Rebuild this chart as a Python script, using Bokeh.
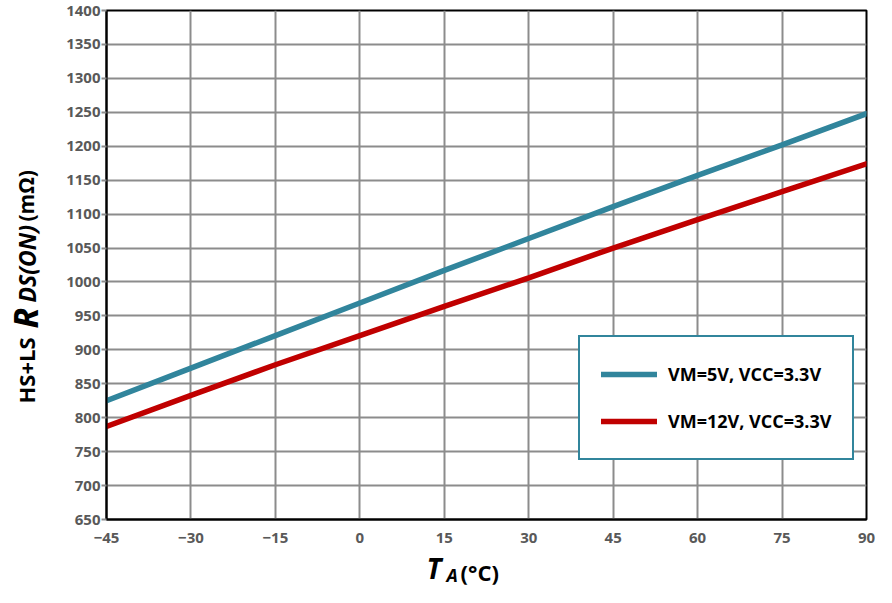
import math
from bokeh.plotting import figure
from bokeh.models import Range1d, SingleIntervalTicker
from bokeh.layouts import row, column
from bokeh.core.properties import value
from bokeh.embed import file_html
from bokeh.resources import INLINE

# ---- data ----
temps = [-45, -30, -15, 0, 15, 30, 45, 60, 75, 90]
rds_vm5 = [825, 873, 921, 969, 1017, 1064, 1111, 1157, 1202, 1248]
rds_vm12 = [787, 833, 878, 921, 964, 1006, 1050, 1092, 1133, 1174]
series_names = ["VM=5V, VCC=3.3V", "VM=12V, VCC=3.3V"]
x_ticks_interval = 15
y_ticks_interval = 50

TEAL = "#31859C"
RED = "#C00000"
GRID = "#8C8C8C"
TICKTXT = "#595959"
FONT = "Open Sans"

W, H = 876, 587
WL = 60          # width of the y-label strip
HT = 550         # height of the upper row
BT, BB = 10, 31  # top / bottom borders of the upper row

def blank_fig(w, h, y0=0, y1=None, bt=0, bb=0):
    f = figure(width=w, height=h, output_backend="svg", toolbar_location=None,
               title_location=None,
               x_range=Range1d(0, w), y_range=Range1d(y0, h if y1 is None else y1),
               x_axis_type=None, y_axis_type=None,
               min_border=0, min_border_left=0, min_border_right=0,
               min_border_top=bt, min_border_bottom=bb)
    f.outline_line_color = None
    f.background_fill_color = "white"
    f.border_fill_color = "white"
    f.grid.visible = False
    return f

# ---- main plot ----
p = figure(width=W - WL, height=HT, output_backend="svg", toolbar_location=None,
           x_range=Range1d(-45, 90), y_range=Range1d(650, 1400),
           min_border_left=46, min_border_right=10, min_border_top=BT, min_border_bottom=BB)

p.line(temps, rds_vm5, line_color=TEAL, line_width=5.5, line_cap="round",
       legend_label=series_names[0])
p.line(temps, rds_vm12, line_color=RED, line_width=5.5, line_cap="round",
       legend_label=series_names[1])

p.xaxis.ticker = SingleIntervalTicker(interval=x_ticks_interval)
p.yaxis.ticker = SingleIntervalTicker(interval=y_ticks_interval)
for ax in (p.xaxis, p.yaxis):
    ax.axis_line_color = "black"
    ax.axis_line_width = 2
    ax.minor_tick_line_color = None
    ax.major_label_text_font = FONT
    ax.major_label_text_font_style = "bold"
    ax.major_label_text_font_size = "15px"
    ax.major_label_text_color = TICKTXT
    ax.major_tick_line_color = GRID
    ax.major_tick_line_width = 2
    ax.major_tick_in = 0
p.yaxis.major_tick_out = 5
p.yaxis.major_label_standoff = 1
p.xaxis.major_tick_out = 0
p.xaxis.major_label_standoff = 9

p.xgrid.grid_line_color = GRID
p.ygrid.grid_line_color = GRID
p.xgrid.grid_line_width = 2
p.ygrid.grid_line_width = 2

p.outline_line_color = "black"
p.outline_line_width = 2
p.background_fill_color = "white"
p.border_fill_color = "white"

lg = p.legend[0]
lg.location = (472, 59)
lg.border_line_color = TEAL
lg.border_line_width = 2
lg.border_line_alpha = 1
lg.background_fill_color = "white"
lg.background_fill_alpha = 1
lg.label_text_font = FONT
lg.label_text_font_style = "bold"
lg.label_text_font_size = "18px"
lg.label_text_color = "black"
lg.padding = 21
lg.spacing = 15
lg.glyph_width = 56
lg.glyph_height = 32
lg.label_height = 32
lg.label_standoff = 11
lg.margin = 0

# ---- y-axis label strip (rotated text); frame 10..519 mapped so y = HT - page_y ----
yl = blank_fig(WL, HT, y0=BB, y1=HT - BT, bt=BT, bb=BB)
ylab_text = ["HS+LS", "R", "DS(ON)", "(mΩ)"]
ylab_x = [25, 24, 26, 25]
ylab_page_y = [403, 328, 302, 221]
ylab_size = ["22px", "34px", "23px", "21px"]
ylab_style = ["bold", "bold italic", "bold italic", "bold"]
for t, x, py, sz, st in zip(ylab_text, ylab_x, ylab_page_y, ylab_size, ylab_style):
    yl.text(x=[x], y=[HT - py], text=[t], angle=math.pi / 2,
            text_align="left", text_baseline="middle",
            text_font=value(FONT), text_font_size=value(sz), text_font_style=st,
            text_color="black")

# ---- x-axis label strip ----
xl = blank_fig(W, H - HT)
xlab_text = ["T", "A", "(°C)"]
xlab_x = [426, 446, 460]
xlab_page_y = [567, 574, 571]
xlab_size = ["28px", "18px", "22px"]
xlab_style = ["bold italic", "bold italic", "bold"]
for t, x, py, sz, st in zip(xlab_text, xlab_x, xlab_page_y, xlab_size, xlab_style):
    xl.text(x=[x], y=[H - py], text=[t],
            text_align="left", text_baseline="middle",
            text_font=value(FONT), text_font_size=value(sz), text_font_style=st,
            text_color="black")

layout = column(row(yl, p, spacing=0), xl, spacing=0)
open("out.html", "w").write(file_html(layout, INLINE))
